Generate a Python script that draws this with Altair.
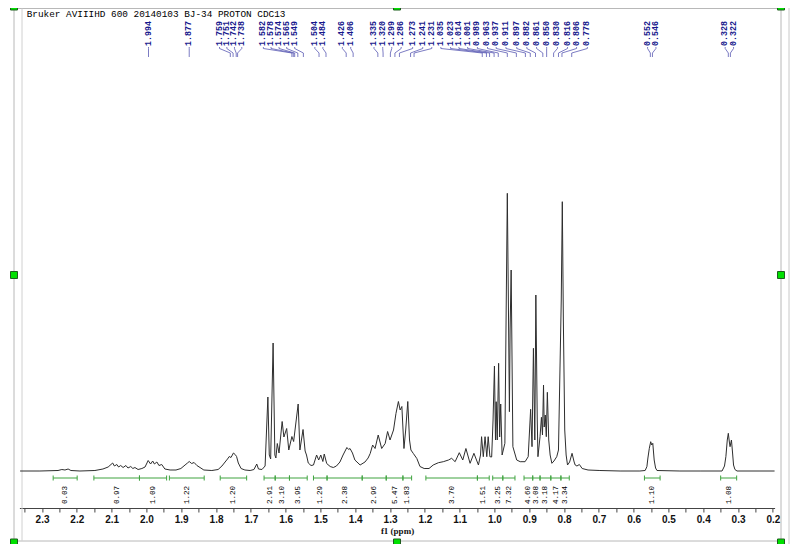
import altair as alt
import pandas as pd

TITLE = "Bruker AVIIIHD 600 20140103 BJ-34 PROTON CDC13"

# ---- spectrum trace (ppm, intensity in arbitrary units) ----
ppm = [2.363, 2.306, 2.254, 2.243, 2.234, 2.225, 2.217, 2.191, 2.148, 2.125, 2.110,
       2.097, 2.092, 2.085, 2.080, 2.074, 2.067, 2.059, 2.053, 2.045, 2.039, 2.033, 2.024,
       2.013, 2.004, 1.995, 1.988, 1.982, 1.977, 1.970, 1.964, 1.956, 1.947, 1.932, 1.915,
       1.901, 1.889, 1.882, 1.877, 1.870, 1.863, 1.855, 1.846, 1.835, 1.812, 1.794, 1.783,
       1.774, 1.767, 1.762, 1.757, 1.750, 1.745, 1.741, 1.736, 1.728, 1.717, 1.702, 1.691,
       1.683, 1.678, 1.668, 1.659, 1.651, 1.647, 1.643, 1.636, 1.631, 1.628, 1.624, 1.619,
       1.610, 1.605, 1.597, 1.591, 1.582, 1.577, 1.564, 1.559, 1.550, 1.544, 1.540, 1.535,
       1.527, 1.520, 1.511, 1.505, 1.499, 1.493, 1.489, 1.482, 1.472, 1.463, 1.454, 1.444,
       1.435, 1.424, 1.419, 1.415, 1.408, 1.401, 1.386, 1.372, 1.363, 1.357, 1.350, 1.343,
       1.334, 1.324, 1.314, 1.307, 1.300, 1.290, 1.283, 1.276, 1.271, 1.266, 1.260, 1.255,
       1.249, 1.244, 1.240, 1.233, 1.223, 1.214, 1.202, 1.188, 1.176, 1.161, 1.147, 1.132,
       1.123, 1.113, 1.101, 1.091, 1.082, 1.070, 1.059, 1.046, 1.040, 1.037, 1.032, 1.027,
       1.022, 1.018, 1.013, 1.008, 1.004, 1.000, 0.997, 0.995, 0.992, 0.988, 0.985, 0.982,
       0.978, 0.970, 0.966, 0.963, 0.960, 0.957, 0.955, 0.952, 0.950, 0.947, 0.936, 0.926,
       0.912, 0.903, 0.896, 0.892, 0.888, 0.884, 0.881, 0.877, 0.875, 0.869, 0.865, 0.862,
       0.859, 0.857, 0.854, 0.851, 0.848, 0.844, 0.840, 0.835, 0.829, 0.821, 0.816, 0.808,
       0.805, 0.802, 0.798, 0.794, 0.790, 0.784, 0.777, 0.771, 0.768, 0.763, 0.756, 0.748,
       0.731, 0.697, 0.639, 0.582, 0.567, 0.562, 0.559, 0.555, 0.551, 0.548, 0.545, 0.541,
       0.537, 0.533, 0.467, 0.409, 0.346, 0.339, 0.335, 0.331, 0.328, 0.325, 0.323, 0.319,
       0.316, 0.313, 0.309, 0.303, 0.237, 0.194]
intensity = [0, 0, 0.5, 1.5, 1, 2, 0.5, 0, 0.5, 2, 4,
             8, 5, 6.5, 4, 5.5, 3.5, 5.5, 3, 4.5, 2.5, 3.5, 1.5,
             2.5, 4, 10.5, 7, 10, 7, 9, 5.5, 6.5, 2, 1, 1,
             2.5, 6, 8, 9.5, 7.5, 8.5, 5.5, 3.5, 1, 0.5, 1.5, 5,
             9, 12, 14.5, 13.5, 18, 16.5, 14.5, 8, 2.5, 1, 0.5, 1.5,
             7, 2, 1.5, 5, 74, 16, 12, 128, 16, 13, 27.5, 18,
             49.5, 34, 42.5, 21, 34.5, 29.5, 67, 21, 41.5, 20, 16, 8,
             5.5, 6, 16, 11, 16, 9.5, 17, 7.5, 4.5, 3.5, 5, 9,
             16, 23.5, 21.5, 22.5, 18, 11, 6, 9, 13, 17.5, 26, 22.5,
             36, 22.5, 27.5, 39.5, 31, 41, 57.5, 69.5, 61, 64.5, 22.5, 41,
             69.5, 31, 21, 17.5, 12.5, 4.5, 2.5, 2.5, 6, 8.3, 9.3, 11,
             12.7, 9.3, 18.3, 11, 22.5, 7.7, 17.7, 6, 16, 34.3, 14.3, 34.3,
             14.3, 34.3, 14.3, 14, 51, 105, 31, 69.3, 31, 107.7, 34, 67,
             16, 27.7, 171, 277.7, 171, 59.3, 141, 201, 131, 24.3, 11, 9.3,
             9.3, 14.3, 61.7, 24.3, 122.7, 31, 176, 51, 14.3, 34.3, 53.7, 36,
             86, 44, 56, 34.3, 78.7, 31, 16, 7.7, 10, 14.3, 21, 171,
             269.3, 151, 41, 16, 6, 9, 17.7, 9, 6, 5, 6.5, 2.5,
             1, 0.5, 0, 0, 0.5, 4.3, 13, 22.7, 29.3, 26, 27.7, 11,
             3, 0.5, 0, 0, 0, 5, 14.3, 31, 37.7, 29, 24.3, 31,
             19, 6, 1.5, 0, 0, 0]

# ---- peak picking labels ----
peak_ppm = [1.994, 1.877, 1.759, 1.751, 1.742, 1.738, 1.582, 1.578, 1.574, 1.565, 1.549,
            1.504, 1.484, 1.426, 1.406, 1.335, 1.320, 1.299, 1.286, 1.273, 1.241, 1.231,
            1.035, 1.023, 1.014, 1.001, 0.989, 0.963, 0.937, 0.911, 0.897, 0.882, 0.861,
            0.850, 0.830, 0.816, 0.806, 0.778, 0.552, 0.546, 0.328, 0.322]
label_ppm = [1.994, 1.877, 1.790, 1.769, 1.747, 1.726, 1.664, 1.642, 1.619, 1.597, 1.574,
             1.516, 1.493, 1.437, 1.413, 1.346, 1.321, 1.295, 1.268, 1.235, 1.206, 1.180,
             1.154, 1.126, 1.102, 1.077, 1.049, 1.020, 0.995, 0.967, 0.936, 0.907, 0.879,
             0.850, 0.819, 0.790, 0.764, 0.733, 0.560, 0.536, 0.337, 0.313]

# ---- integrals ----
int_start = [2.268, 2.151, 2.020, 1.934, 1.788, 1.662, 1.630, 1.589, 1.520, 1.481, 1.380,
             1.311, 1.263, 1.197, 1.049, 1.005, 0.976, 0.915, 0.890, 0.869, 0.838, 0.809,
             0.569, 0.350]
int_end = [2.199, 2.020, 1.942, 1.834, 1.712, 1.630, 1.589, 1.538, 1.481, 1.380, 1.311,
           1.263, 1.238, 1.049, 1.015, 0.976, 0.941, 0.890, 0.869, 0.838, 0.809, 0.785,
           0.524, 0.304]
int_value = [0.03, 0.97, 1.09, 1.22, 1.20, 2.91, 3.10, 3.95, 1.29, 2.38, 2.96,
             5.47, 1.83, 3.70, 1.51, 3.25, 7.32, 4.60, 3.08, 3.18, 4.17, 3.34,
             1.10, 1.08]

tick_values = [2.35, 2.3, 2.25, 2.2, 2.15, 2.1, 2.05, 2.0, 1.95, 1.9, 1.85, 1.8, 1.75,
               1.7, 1.65, 1.6, 1.55, 1.5, 1.45, 1.4, 1.35, 1.3, 1.25, 1.2, 1.15, 1.1,
               1.05, 1.0, 0.95, 0.9, 0.85, 0.8, 0.75, 0.7, 0.65, 0.6, 0.55, 0.5, 0.45,
               0.4, 0.35, 0.3, 0.25, 0.2]

spec_df = pd.DataFrame({"ppm": ppm, "intensity": intensity})
peak_df = pd.DataFrame({"peak": peak_ppm, "lab": label_ppm})
int_df = pd.DataFrame({"s": int_start, "e": int_end, "v": int_value})
one = pd.DataFrame({"d": [0]})

xscale = alt.Scale(domain=[2.365, 0.195], nice=False, zero=False)
yscale = alt.Scale(domain=[-37, 457], nice=False, zero=False)

xaxis = alt.Axis(
    values=tick_values,
    labelExpr="abs(datum.value * 10 - round(datum.value * 10)) < 0.001 ? format(datum.value, '.1f') : ''",
    tickSize=4, labelPadding=2, labelFont="Liberation Sans", labelFontWeight="bold",
    labelFontSize=10, labelColor="#111111", domainColor="#444444", tickColor="#444444",
    grid=False, title="f1 (ppm)", titleFont="Liberation Serif", titleFontWeight="bold",
    titleFontSize=9, titlePadding=2, titleColor="#111111",
    labelOverlap=False, labelFlush=False, labelBound=False,
)


def X(field):
    return alt.X(field, scale=xscale, axis=xaxis)


spectrum = alt.Chart(spec_df).mark_line(color="#2e2e2e", strokeWidth=1, clip=True).encode(
    x=X("ppm:Q"),
    y=alt.Y("intensity:Q", scale=yscale, axis=None),
    order="ppm:Q",
)

BLUE = "#16168c"
CONN = "#5a5ab4"
peak_text = alt.Chart(peak_df).mark_text(
    angle=270, align="left", baseline="middle", font="Liberation Mono",
    fontWeight="bold", fontSize=8.3, color=BLUE,
).encode(x=X("lab:Q"), y=alt.value(32),
         text=alt.Text("peak:Q", format=".3f"))

conn_a = alt.Chart(peak_df).mark_rule(color=CONN, strokeWidth=0.8).encode(
    x=X("lab:Q"), y=alt.value(33), y2=alt.value(34.5))
conn_b = alt.Chart(peak_df).mark_rule(color=CONN, strokeWidth=0.8).encode(
    x=X("lab:Q"), x2="peak:Q", y=alt.value(34.5), y2=alt.value(39))
conn_c = alt.Chart(peak_df).mark_rule(color=CONN, strokeWidth=0.8).encode(
    x=X("peak:Q"), y=alt.value(39), y2=alt.value(43))

GREEN = "#3fa33f"
int_bar = alt.Chart(int_df).mark_rule(color=GREEN, strokeWidth=1).encode(
    x=X("s:Q"), x2="e:Q", y=alt.value(464))
int_tick_s = alt.Chart(int_df).mark_rule(color=GREEN, strokeWidth=1).encode(
    x=X("s:Q"), y=alt.value(461.5), y2=alt.value(466.5))
int_tick_e = alt.Chart(int_df).mark_rule(color=GREEN, strokeWidth=1).encode(
    x=X("e:Q"), y=alt.value(461.5), y2=alt.value(466.5))
int_text = alt.Chart(int_df).transform_calculate(mid="(datum.s + datum.e) / 2").mark_text(
    angle=270, align="center", baseline="middle", font="Liberation Mono",
    fontSize=7.6, color="#000000",
).encode(x=X("mid:Q"), y=alt.value(481),
         text=alt.Text("v:Q", format=".2f"))

title = alt.Chart(pd.DataFrame({"t": [TITLE]})).mark_text(
    align="left", baseline="alphabetic", font="Liberation Mono", fontSize=9.4,
    color="#000000",
).encode(x=alt.value(7.3), y=alt.value(3), text="t:N")

FRAME = "#b8b8b8"


def hline(x1, x2, y, color=FRAME):
    return alt.Chart(one).mark_rule(color=color, strokeWidth=1).encode(
        x=alt.value(x1), x2=alt.value(x2), y=alt.value(y))


def vline(x, y1, y2, color=FRAME):
    return alt.Chart(one).mark_rule(color=color, strokeWidth=1).encode(
        x=alt.value(x), y=alt.value(y1), y2=alt.value(y2))


frame = [
    hline(-5.4, 761.6, -5.5),
    hline(-5.4, 761.6, 527),
    vline(-5.4, -5.5, 527),
    vline(761.6, -5.5, 527),
    vline(2.6, -5.5, 527, "#d0d0d0"),
    vline(769.6, -10, 535, "#c8c8c8"),
]

squares = []
for cx, cy in [(-5.4, -7.5), (377.6, -7.5), (761.6, -7.5), (-5.4, 261), (761.6, 261),
               (-5.4, 528.5), (377.6, 528.5), (761.6, 528.5)]:
    squares.append(alt.Chart(one).mark_rect(fill="#00e000", stroke="#1d5e1d", strokeWidth=1).encode(
        x=alt.value(cx - 3.5), x2=alt.value(cx + 3.5), y=alt.value(cy - 3.5), y2=alt.value(cy + 3.5)))

chart = alt.layer(
    *frame, spectrum, int_bar, int_tick_s, int_tick_e, int_text,
    conn_a, conn_b, conn_c, peak_text, title, *squares,
).properties(
    width=755.2, height=494,
    autosize=alt.AutoSizeParams(type="none"),
    padding={"left": 11.4, "top": 6, "right": 17.4, "bottom": 36},
    background="white",
).configure_view(strokeWidth=0)

chart.save("out.html", embed_options={"renderer": "svg", "actions": False})
